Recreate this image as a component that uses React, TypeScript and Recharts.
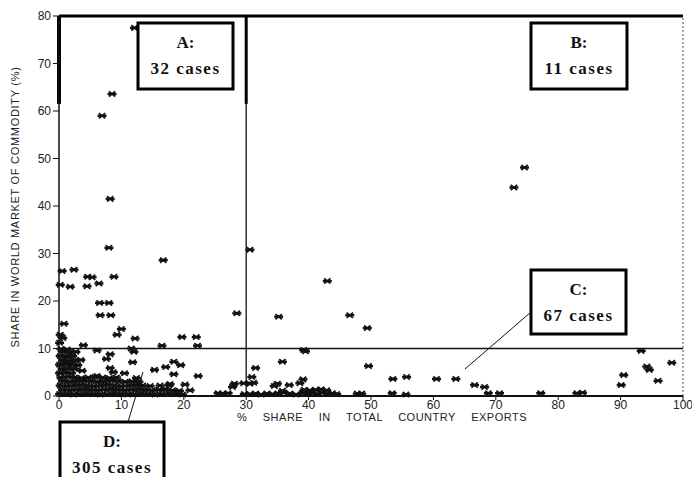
import React from 'react';
import { ScatterChart, Scatter, XAxis, YAxis, ReferenceLine } from 'recharts';

// [x, y] pairs, grouped by quadrant
const regionA: number[][] = [
  [12.1, 77.5], [8.5, 63.6], [6.9, 59.0], [8.2, 41.5], [8.0, 31.2], [16.7, 28.6],
  [0.5, 26.3], [2.4, 26.6], [4.6, 25.1], [5.3, 25.0], [8.8, 25.1], [6.4, 23.7],
  [0.2, 23.4], [1.8, 23.0], [4.5, 23.1], [6.5, 19.6], [8.0, 19.6], [6.6, 17.0],
  [8.3, 17.0], [0.8, 15.2], [10.0, 14.1], [9.3, 12.9], [12.2, 12.1], [19.7, 12.4],
  [22.0, 12.4], [16.5, 10.6], [22.2, 10.6], [3.9, 10.7], [0.2, 12.9], [0.6, 12.2],
  [28.5, 17.4], [0.1, 11.2],
];

const regionB: number[][] = [
  [30.6, 30.8], [43.0, 24.2], [35.2, 16.7], [46.6, 17.0], [49.4, 14.3],
  [74.6, 48.1], [72.9, 43.9],
];

const regionC: number[][] = [
  [39.2, 9.7], [39.5, 9.4], [35.8, 7.2], [31.5, 5.9], [49.6, 6.3], [30.9, 4.0],
  [31.2, 2.8], [30.6, 2.6], [34.5, 2.1], [35.0, 2.6], [36.9, 2.3], [38.6, 2.7],
  [39.1, 3.5], [53.5, 3.6], [55.7, 4.0], [60.5, 3.6], [63.6, 3.6], [66.6, 2.3],
  [68.2, 1.9], [68.8, 0.6], [70.6, 0.6], [77.2, 0.6], [83.0, 0.6], [83.9, 0.7],
  [90.1, 2.3], [90.5, 4.4], [94.2, 6.2], [94.6, 5.5], [96.0, 3.2], [98.2, 7.0],
  [93.3, 9.5], [30.6, 0.4], [31.5, 0.5], [32.4, 0.3], [33.3, 0.5], [34.2, 0.4],
  [35.1, 0.5], [36.0, 0.7], [37.0, 0.5], [38.0, 0.3], [39.0, 0.6], [39.8, 0.5],
  [40.6, 0.6], [41.4, 0.4], [42.2, 0.7], [43.0, 0.5], [43.8, 0.6], [44.5, 0.4],
  [39.3, 1.3], [40.2, 1.2], [41.1, 1.3], [42.0, 1.4], [42.9, 1.2], [35.8, 1.1],
  [47.8, 0.5], [48.5, 0.5], [53.4, 0.6], [55.6, 0.3],
];

const regionD: number[][] = [
  // dense bottom block
  [0.1, 0.4], [1.2, 0.4], [2.3, 0.3], [3.3, 0.4], [4.4, 0.5], [5.5, 0.4], [6.6, 0.3],
  [7.7, 0.4], [8.8, 0.5], [9.9, 0.4], [11.0, 0.3], [12.1, 0.4], [13.2, 0.5], [14.3, 0.4],
  [15.4, 0.3], [16.5, 0.4], [17.6, 0.5], [18.7, 0.4], [19.8, 0.3],
  [0.6, 1.3], [1.7, 1.2], [2.8, 1.3], [3.9, 1.4], [5.0, 1.3], [6.1, 1.2], [7.2, 1.3],
  [8.3, 1.4], [9.4, 1.3], [10.5, 1.2], [11.6, 1.3], [12.7, 1.4], [13.8, 1.3], [14.9, 1.2],
  [16.0, 1.3], [17.1, 1.4], [18.2, 1.2], [19.3, 1.1],
  [0.2, 2.2], [1.3, 2.1], [2.4, 2.2], [3.5, 2.3], [4.5, 2.2], [5.6, 2.1], [6.7, 2.2],
  [7.8, 2.3], [8.9, 2.2], [10.0, 2.1], [11.2, 2.2], [12.3, 2.3], [13.4, 2.2], [14.6, 2.1],
  [16.2, 2.2], [17.6, 2.3],
  [0.7, 3.1], [1.8, 3.0], [2.9, 3.1], [4.0, 3.2], [5.1, 3.1], [6.2, 3.0], [7.3, 3.1],
  [8.4, 3.2], [9.5, 3.1], [10.6, 3.0], [11.7, 3.1], [12.8, 3.0],
  [0.3, 3.9], [1.4, 4.0], [2.5, 3.9], [3.6, 3.8], [4.7, 3.9], [5.8, 4.0], [7.0, 3.9],
  [8.1, 3.8], [9.2, 3.9], [12.4, 3.8],
  // upper left block
  [0.1, 4.8], [1.0, 4.9], [2.0, 4.8], [0.5, 5.7], [1.5, 5.8], [2.5, 5.7],
  [0.1, 6.6], [1.1, 6.7], [2.1, 6.6], [3.0, 6.5], [0.6, 7.5], [1.6, 7.4], [2.6, 7.5],
  [3.5, 7.6], [0.2, 8.4], [1.2, 8.3], [2.2, 8.4], [0.7, 9.3], [1.7, 9.2], [2.7, 9.3],
  [0.3, 9.9], [1.3, 9.8],
  // scattered
  [6.1, 9.6], [8.2, 8.8], [12.0, 9.3], [7.6, 7.8], [11.8, 7.1], [8.2, 5.9],
  [8.7, 5.0], [10.5, 4.8], [6.1, 4.2], [3.7, 5.3], [15.3, 5.5], [17.1, 6.1],
  [18.4, 7.2], [19.5, 6.5], [18.4, 4.6], [22.3, 4.2], [17.8, 2.5], [20.2, 2.4],
  [21.0, 1.2], [25.5, 0.6], [26.2, 0.5], [27.1, 0.6], [27.8, 1.9], [28.1, 2.6],
  [29.6, 2.7], [11.6, 10.0], [29.7, 0.4],
];

const xTicks = [0, 10, 20, 30, 40, 50, 60, 70, 80, 90, 100];
const yTicks = [0, 10, 20, 30, 40, 50, 60, 70, 80];

const caseBoxes = [
  { letter: 'A:', cases: '32 cases' },
  { letter: 'B:', cases: '11 cases' },
  { letter: 'C:', cases: '67 cases' },
  { letter: 'D:', cases: '305 cases' },
];

// pixel frames for the annotation boxes (same order as caseBoxes)
const boxFrames = [
  { x: 138, y: 23, w: 95, h: 66 },
  { x: 531, y: 23, w: 96, h: 66 },
  { x: 531, y: 270, w: 95, h: 64 },
  { x: 60, y: 422, w: 104, h: 62 },
];

const allPoints = [...regionA, ...regionB, ...regionC, ...regionD].map(([x, y]) => ({ x, y }));

const Star = (props: any) => {
  const { cx, cy } = props;
  if (cx == null || cy == null) return null;
  return (
    <g stroke="#111" fill="none">
      <line x1={cx - 4.5} y1={cy} x2={cx + 4.5} y2={cy} strokeWidth={2.4} />
      <line x1={cx - 3.2} y1={cy - 2.6} x2={cx + 3.2} y2={cy + 2.6} strokeWidth={1.7} />
      <line x1={cx - 3.2} y1={cy + 2.6} x2={cx + 3.2} y2={cy - 2.6} strokeWidth={1.7} />
    </g>
  );
};

const tickStyle = { fontSize: 12, fill: '#222', fontFamily: '"Liberation Sans", Arial, sans-serif' };

export default function App() {
  return (
    <div style={{ position: 'absolute', left: 0, top: 0, width: 692, height: 477, background: '#fff' }}>
      <ScatterChart width={692} height={477} margin={{ top: 16, right: 9, bottom: 51, left: 0 }}>
        <XAxis
          type="number"
          dataKey="x"
          domain={[0, 100]}
          ticks={xTicks}
          interval={0}
          height={30}
          tickSize={4}
          tickMargin={0}
          tick={tickStyle}
          axisLine={{ stroke: '#111', strokeWidth: 2 }}
          tickLine={{ stroke: '#111' }}
        />
        <YAxis
          type="number"
          dataKey="y"
          domain={[0, 80]}
          ticks={yTicks}
          interval={0}
          width={59}
          tickSize={6}
          tickMargin={2}
          tick={tickStyle}
          axisLine={{ stroke: '#111', strokeWidth: 1.5 }}
          tickLine={{ stroke: '#111' }}
        />
        <ReferenceLine x={30} stroke="#111" strokeWidth={1.3} />
        <ReferenceLine y={10} stroke="#111" strokeWidth={1.3} />
        <ReferenceLine x={100} stroke="#555" strokeWidth={1} strokeDasharray="2 2" />
        <ReferenceLine y={80} stroke="#000" strokeWidth={3} />
        <ReferenceLine segment={[{ x: 0, y: 80 }, { x: 0, y: 61.5 }]} stroke="#000" strokeWidth={4} />
        <ReferenceLine segment={[{ x: 30, y: 80 }, { x: 30, y: 61.5 }]} stroke="#000" strokeWidth={3} />
        <Scatter data={allPoints} shape={Star} isAnimationActive={false} />
      </ScatterChart>
      <svg
        width={692}
        height={477}
        style={{ position: 'absolute', left: 0, top: 0, pointerEvents: 'none' }}
      >
        <text
          transform="translate(16,207) rotate(-90)"
          textAnchor="middle"
          dominantBaseline="middle"
          fontSize={11}
          letterSpacing={0.7}
          fill="#222"
          fontFamily='"Liberation Sans", Arial, sans-serif'
        >
          SHARE IN WORLD MARKET OF COMMODITY (%)
        </text>
        <text
          x={382}
          y={418}
          textAnchor="middle"
          dominantBaseline="middle"
          fontSize={11}
          wordSpacing={12}
          letterSpacing={0.5}
          fill="#222"
          fontFamily='"Liberation Sans", Arial, sans-serif'
        >
          % SHARE IN TOTAL COUNTRY EXPORTS
        </text>
        <line x1={465} y1={369} x2={531} y2={312} stroke="#111" strokeWidth={1} />
        <line x1={128} y1={422} x2={143} y2={372} stroke="#111" strokeWidth={1} />
        {caseBoxes.map((b, i) => {
          const f = boxFrames[i];
          const cx = f.x + f.w / 2;
          return (
            <g key={b.letter}>
              <rect x={f.x} y={f.y} width={f.w} height={f.h} fill="#fff" stroke="#000" strokeWidth={3} />
              <text
                x={cx}
                y={f.y + 25}
                textAnchor="middle"
                fontSize={17}
                fontWeight="bold"
                fontFamily='"Liberation Serif", "Times New Roman", serif'
                fill="#111"
              >
                {b.letter}
              </text>
              <text
                x={cx}
                y={f.y + 51}
                textAnchor="middle"
                fontSize={17}
                fontWeight="bold"
                letterSpacing={1.5}
                fontFamily='"Liberation Serif", "Times New Roman", serif'
                fill="#111"
              >
                {b.cases}
              </text>
            </g>
          );
        })}
      </svg>
    </div>
  );
}
